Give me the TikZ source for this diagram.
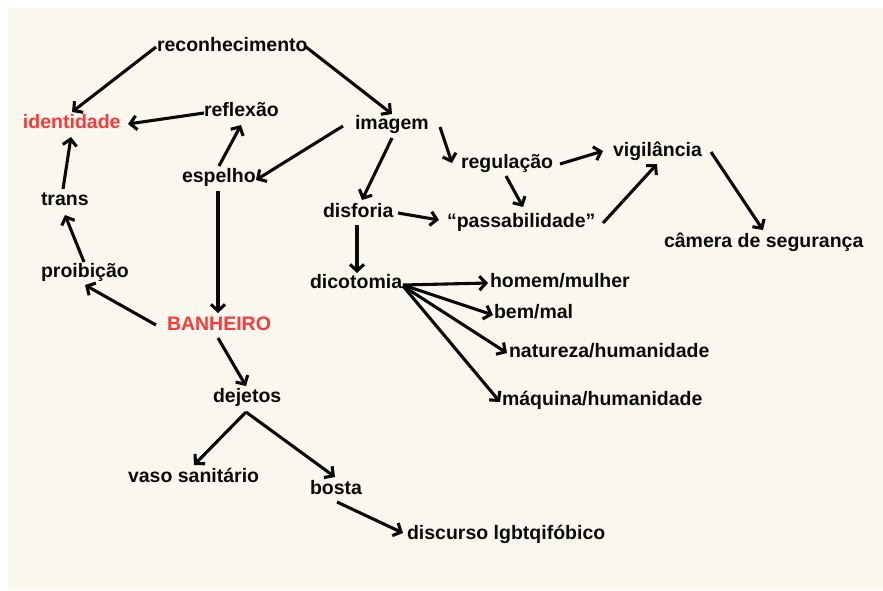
\documentclass[tikz,border=0pt]{standalone}
\usepackage{fontspec}
\setmainfont{Liberation Sans}
\usetikzlibrary{arrows.meta}
\definecolor{cream}{RGB}{250,247,239}
\definecolor{hot}{RGB}{250,58,58}
\definecolor{ink}{RGB}{10,10,10}
\tikzset{
  lbl/.style={anchor=base west, inner sep=0pt, outer sep=0pt, text=ink,
    font=\fontsize{19.5}{23}\selectfont\bfseries},
  key/.style={lbl, text=hot},
  arr/.style={draw=ink, line width=3.1pt, line join=miter,
    -{Straight Barb[length=6.5pt,width=14pt,line width=3.1pt]}}
}
\begin{document}
\begin{tikzpicture}[x=1pt,y=-1pt]
\useasboundingbox (0,0) rectangle (883,590);
\fill[cream] (8,8) rectangle (883,590);
% nodes
\node[lbl] (reco) at (157,51) {reconhecimento};
\node[key] (iden) at (23,128) {identidade};
\node[lbl] (refl) at (204,116) {reflexão};
\node[lbl] (imag) at (355,129) {imagem};
\node[lbl] (espe) at (182,182) {espelho};
\node[lbl] (trans) at (41,205) {trans};
\node[lbl] (prob) at (41,277) {proibição};
\node[lbl] (disf) at (323,217) {disforia};
\node[lbl] (dico) at (310,288) {dicotomia};
\node[lbl] (regu) at (461,168) {regulação};
\node[lbl] (vigi) at (613,156) {vigilância};
\node[lbl] (pass) at (447,227) {“passabilidade”};
\node[lbl] (came) at (664,247) {câmera de segurança};
\node[lbl] (homem) at (490,287) {homem/mulher};
\node[lbl] (bem) at (494,318) {bem/mal};
\node[lbl] (nat) at (509,357) {natureza/humanidade};
\node[lbl] (maq) at (502,405) {máquina/humanidade};
\node[key] (banh) at (167,330) {BANHEIRO};
\node[lbl] (deje) at (213,402) {dejetos};
\node[lbl] (vaso) at (128,482) {vaso sanitário};
\node[lbl] (bost) at (310,494) {bosta};
\node[lbl] (disc) at (407,539) {discurso lgbtqifóbico};
% connectors
\draw[arr] ([shift={(-1,-4)}]reco.base west) -- ([shift={(49,-16)}]iden.base west);
\draw[arr] ([shift={(149,-4)}]reco.base west) -- ([shift={(37,-15)}]imag.base west);
\draw[arr] ([shift={(0,-3)}]refl.base west) -- ([shift={(105,-4)}]iden.base west);
\draw[arr] ([shift={(37,-16)}]espe.base west) -- ([shift={(37,9)}]refl.base west);
\draw[arr] ([shift={(-12,-3)}]imag.base west) -- ([shift={(74,-2)}]espe.base west);
\draw[arr] ([shift={(37,9)}]imag.base west) -- ([shift={(39,-17)}]disf.base west);
\draw[arr] ([shift={(22,-16)}]trans.base west) -- ([shift={(48,9)}]iden.base west);
\draw[arr] ([shift={(43,-15)}]prob.base west) -- ([shift={(24,10)}]trans.base west);
\draw[arr] ([shift={(34,8)}]disf.base west) -- ([shift={(47,-15)}]dico.base west);
\draw[arr] ([shift={(75,-4)}]disf.base west) -- ([shift={(-8,-7)}]pass.base west);
\draw[arr] ([shift={(36,9)}]espe.base west) -- ([shift={(51,-17)}]banh.base west);
\draw[arr] ([shift={(-11,-5)}]banh.base west) -- ([shift={(44,8)}]prob.base west);
\draw[arr] ([shift={(85,-2)}]imag.base west) -- ([shift={(-9,-5)}]regu.base west);
\draw[arr] ([shift={(99,-4)}]regu.base west) -- ([shift={(-10,-5)}]vigi.base west);
\draw[arr] ([shift={(45,8)}]regu.base west) -- ([shift={(76,-20)}]pass.base west);
\draw[arr] ([shift={(156,-4)}]pass.base west) -- ([shift={(44,8)}]vigi.base west);
\draw[arr] ([shift={(98,-4)}]vigi.base west) -- ([shift={(99,-17)}]came.base west);
\draw[arr] ([shift={(93,-3)}]dico.base west) -- ([shift={(-2,-4)}]homem.base west);
\draw[arr] ([shift={(93,-3)}]dico.base west) -- ([shift={(-1,-3)}]bem.base west);
\draw[arr] ([shift={(93,-2)}]dico.base west) -- ([shift={(-2,-4)}]nat.base west);
\draw[arr] ([shift={(93,-2)}]dico.base west) -- ([shift={(-2,-3)}]maq.base west);
\draw[arr] ([shift={(51,8)}]banh.base west) -- ([shift={(33,-16)}]deje.base west);
\draw[arr] ([shift={(33,10)}]deje.base west) -- ([shift={(66,-17)}]vaso.base west);
\draw[arr] ([shift={(33,10)}]deje.base west) -- ([shift={(25,-17)}]bost.base west);
\draw[arr] ([shift={(27,8)}]bost.base west) -- ([shift={(-4,-6)}]disc.base west);
\end{tikzpicture}
\end{document}
